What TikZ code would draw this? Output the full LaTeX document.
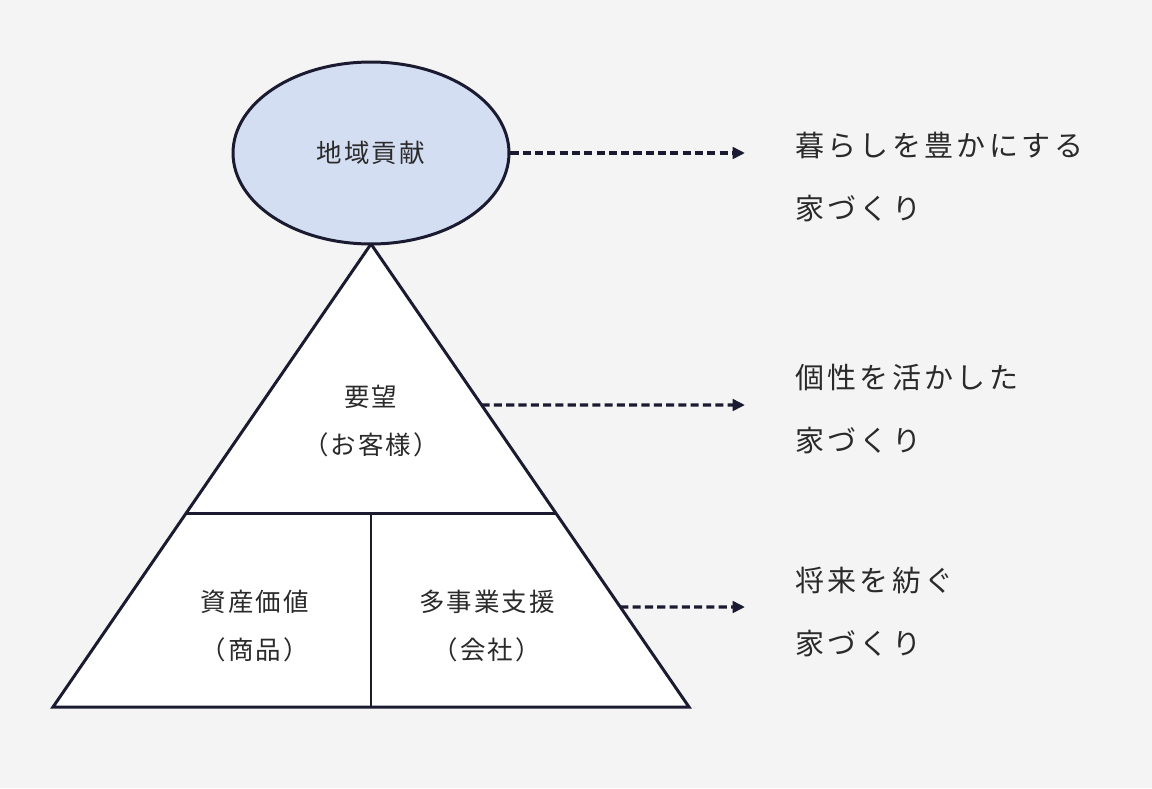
\documentclass[tikz,border=0pt]{standalone}
\usepackage{fontspec}
\setmainfont{Noto Sans CJK JP}
\newfontfamily\jpfont[LetterSpace=8]{Noto Sans CJK JP}
\newfontfamily\goalfont[LetterSpace=11.5]{Noto Sans CJK JP}
\usetikzlibrary{arrows.meta,calc,shapes.geometric}

\definecolor{bgcol}{HTML}{F4F4F4}
\definecolor{linecol}{HTML}{1A1A30}
\definecolor{topcol}{HTML}{D4DEF2}
\definecolor{textcol}{HTML}{2A2A2A}

\tikzset{
  inlabel/.style={text=textcol, font=\jpfont\fontsize{14.5}{17}\selectfont, inner sep=0pt},
  outlabel/.style={text=textcol, font=\goalfont\fontsize{16.5}{35.5}\selectfont, inner sep=0pt, align=left, anchor=north west},
  goalarrow/.style={linecol, line width=1.8pt, dash pattern=on 4.6pt off 2.4pt, -{Triangle[length=7pt,width=6.5pt]}}
}

\begin{document}
\begin{tikzpicture}[x=0.02cm, y=-0.02cm]

        % Background
        \fill[bgcol] (0,0) rectangle (1152,788);
        \useasboundingbox (0,0) rectangle (1152,788);

        % Pyramid corners
        \coordinate (apex) at (371,244);
        \coordinate (bl) at (53,707);
        \coordinate (br) at (689,707);

        % Draw the pyramid and its dividers
        \draw[linecol, line width=1.7pt, fill=white, line join=miter] (apex) -- (br) -- (bl) -- cycle;
        \draw[linecol, line width=1.7pt] ($(apex)!0.581!(bl)$) -- ($(apex)!0.581!(br)$);
        \draw[linecol, line width=1.7pt] (371,513) -- (371,707);

        % Top ellipse
        \node[inlabel, ellipse, draw=linecol, fill=topcol, line width=1.7pt, minimum width=5.52cm, minimum height=3.64cm] (contrib) at (371,153) {地域貢献};

        % Labels inside the pyramid
        \node[inlabel] (wish) at (371,397) {要望};
        \node[inlabel] (wishsub) at (371,445) {（お客様）};
        \node[inlabel] (asset) at (255,602) {資産価値};
        \node[inlabel] (assetsub) at (255,650) {（商品）};
        \node[inlabel] (biz) at (487,602) {多事業支援};
        \node[inlabel] (bizsub) at (487,650) {（会社）};

        % Goals on the right
        \node[outlabel] (goal1) at (795,132) {暮らしを豊かにする\\家づくり};
        \node[outlabel] (goal2) at (795,364) {個性を活かした\\家づくり};
        \node[outlabel] (goal3) at (795,567) {将来を紡ぐ\\家づくり};

        \coordinate (end1) at (745,153);
        \coordinate (end2) at (745,405);
        \coordinate (end3) at (745,607);

        % Dashed arrows
        \draw[goalarrow] (contrib.east) -- (end1);
        \draw[goalarrow] ($(apex)!0.3477!(br)$) -- (end2);
        \draw[goalarrow] ($(apex)!0.784!(br)$) -- (end3);

    \end{tikzpicture}
\end{document}
